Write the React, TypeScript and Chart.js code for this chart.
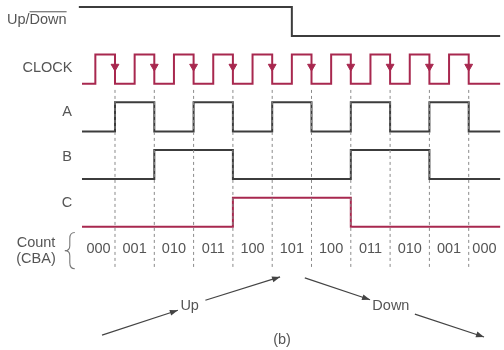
import React, { useEffect, useRef } from 'react';
import { Chart, registerables } from 'chart.js';

Chart.register(...registerables);

// ---- Data (time in clock periods, falling edges at t = 1..10) ----
const COUNT_LABELS = ['000', '001', '010', '011', '100', '101', '100', '011', '010', '001', '000'];
const A_BITS = [0, 1, 0, 1, 0, 1, 0, 1, 0, 1, 0];
const B_BITS = [0, 0, 1, 1, 0, 0, 0, 1, 1, 0, 0];
const C_BITS = [0, 0, 0, 0, 1, 1, 1, 0, 0, 0, 0];
const CLOCK_FALLS = [1, 2, 3, 4, 5, 6, 7, 8, 9, 10];
const CLOCK_RISES = [0.5, 1.5, 2.5, 3.5, 4.5, 5.5, 6.5, 7.5, 8.5, 9.5];
const UPDOWN_BITS = [1, 0];
const UPDOWN_SWITCH = [5.5];
const SIGNAL_NAMES = ['Up/Down', 'CLOCK', 'A', 'B', 'C'];
const T_START = 0.16;
const T_END = 10.8;
const UPDOWN_START = 0.08;

// ---- Layout / style ----
const AMP = 0.61; // high level offset in lane units
const LANE = { updown: 0, clock: 1, a: 2, b: 3, c: 4 };
const X_MIN = -1.926;
const X_MAX = 10.898;
const Y_MIN = -0.755;
const Y_MAX = 6.583;
const DARK = '#3c3c3c';
const RED = '#a8284f';
const TEXT = '#555555';
const FONT = '"Liberation Sans", Arial, Helvetica, sans-serif';

function level(lane: number, bit: number) {
  return lane - bit * AMP;
}

function stepPoints(bits: number[], edges: number[], start: number, end: number, lane: number) {
  const bounds = [start, ...edges, end];
  const pts: { x: number; y: number }[] = [];
  bits.forEach((b, i) => {
    pts.push({ x: bounds[i], y: level(lane, b) });
    pts.push({ x: bounds[i + 1], y: level(lane, b) });
  });
  return pts;
}

function clockPoints(lane: number) {
  const pts: { x: number; y: number }[] = [{ x: T_START, y: level(lane, 0) }];
  CLOCK_RISES.forEach((r, i) => {
    pts.push({ x: r, y: level(lane, 0) });
    pts.push({ x: r, y: level(lane, 1) });
    pts.push({ x: CLOCK_FALLS[i], y: level(lane, 1) });
    pts.push({ x: CLOCK_FALLS[i], y: level(lane, 0) });
  });
  pts.push({ x: T_END, y: level(lane, 0) });
  return pts;
}

const BOUNDARIES = CLOCK_FALLS;

const labelPos = [
  { x: -0.99, y: -0.33 },
  { x: -0.72, y: 0.67 },
  { x: -0.22, y: 1.6 },
  { x: -0.22, y: 2.54 },
  { x: -0.22, y: 3.5 },
];

const ARROWS = [
  { from: { x: 0.67, y: 6.27 }, to: { x: 2.6, y: 5.75 } },
  { from: { x: 3.3, y: 5.54 }, to: { x: 5.2, y: 5.05 } },
  { from: { x: 5.83, y: 5.07 }, to: { x: 7.49, y: 5.53 } },
  { from: { x: 8.63, y: 5.83 }, to: { x: 10.39, y: 6.31 } },
];
const ARROW_TEXT = [
  { text: 'Up', x: 2.9, y: 5.66 },
  { text: 'Down', x: 8.02, y: 5.66 },
  { text: '(b)', x: 5.25, y: 6.37 },
];

export default function App() {
  const ref = useRef<HTMLCanvasElement | null>(null);

  useEffect(() => {
    document.body.style.margin = '0';
    const canvas = ref.current;
    if (!canvas) return;

    const line = (data: any[], color: string, extra: any = {}) => ({
      type: 'line',
      data,
      borderColor: color,
      borderWidth: 2,
      pointRadius: 0,
      fill: false,
      tension: 0,
      borderJoinStyle: 'miter',
      clip: false,
      ...extra,
    });

    const datasets: any[] = [];
    BOUNDARIES.forEach((t) => {
      datasets.push(
        line(
          [
            { x: t, y: 1.13 },
            { x: t, y: 4.86 },
          ],
          '#8a8a8a',
          { borderWidth: 1, borderDash: [3, 3] }
        )
      );
    });
    datasets.push(line(stepPoints(UPDOWN_BITS, UPDOWN_SWITCH, UPDOWN_START, T_END, LANE.updown), DARK));
    datasets.push(line(clockPoints(LANE.clock), RED));
    datasets.push(
      line(
        CLOCK_FALLS.map((t) => ({ x: t, y: LANE.clock - 0.36 })),
        RED,
        {
          showLine: false,
          pointRadius: 4.5,
          pointStyle: 'triangle',
          rotation: 180,
          pointBackgroundColor: RED,
          pointBorderColor: RED,
          pointBorderWidth: 1,
        }
      )
    );
    datasets.push(line(stepPoints(A_BITS, BOUNDARIES, T_START, T_END, LANE.a), DARK));
    datasets.push(line(stepPoints(B_BITS, BOUNDARIES, T_START, T_END, LANE.b), DARK));
    datasets.push(line(stepPoints(C_BITS, BOUNDARIES, T_START, T_END, LANE.c), RED));
    ARROWS.forEach((a) => {
      datasets.push(line([a.from, a.to], '#444', { borderWidth: 1.2 }));
    });

    const textPlugin = {
      id: 'timingText',
      afterDraw(chart: any) {
        const ctx = chart.ctx as CanvasRenderingContext2D;
        const xs = chart.scales.x;
        const ys = chart.scales.y;
        const px = (v: number) => xs.getPixelForValue(v);
        const py = (v: number) => ys.getPixelForValue(v);
        ctx.save();
        ctx.fillStyle = TEXT;
        ctx.font = `14.5px ${FONT}`;
        ctx.textAlign = 'center';
        ctx.textBaseline = 'middle';
        SIGNAL_NAMES.forEach((name, i) => {
          const p = labelPos[i];
          ctx.fillText(name, px(p.x), py(p.y));
        });
        // overline over "Down"
        {
          const p = labelPos[0];
          const full = ctx.measureText('Up/Down').width;
          const pre = ctx.measureText('Up/').width;
          const left = px(p.x) - full / 2;
          ctx.strokeStyle = TEXT;
          ctx.lineWidth = 1;
          ctx.beginPath();
          ctx.moveTo(left + pre, py(p.y) - 8.5);
          ctx.lineTo(left + full, py(p.y) - 8.5);
          ctx.stroke();
        }
        // count labels
        const bounds = [T_START, ...BOUNDARIES, T_END];
        const yc = py(4.47);
        COUNT_LABELS.forEach((lab, i) => {
          ctx.fillText(lab, px((bounds[i] + bounds[i + 1]) / 2), yc);
        });
        ctx.fillText('Count', px(-1.01), py(4.33));
        ctx.fillText('(CBA)', px(-1.01), py(4.68));
        // brace
        const bx = px(-0.15);
        const top = py(4.12);
        const bot = py(4.88);
        const mid = (top + bot) / 2;
        ctx.strokeStyle = '#777';
        ctx.lineWidth = 1.1;
        ctx.beginPath();
        ctx.moveTo(bx + 5, top);
        ctx.quadraticCurveTo(bx, top, bx, top + 6);
        ctx.lineTo(bx, mid - 5);
        ctx.quadraticCurveTo(bx, mid, bx - 5, mid);
        ctx.quadraticCurveTo(bx, mid, bx, mid + 5);
        ctx.lineTo(bx, bot - 6);
        ctx.quadraticCurveTo(bx, bot, bx + 5, bot);
        ctx.stroke();
        // arrowheads
        ctx.fillStyle = '#444';
        ARROWS.forEach((a) => {
          const x1 = px(a.from.x), y1 = py(a.from.y);
          const x2 = px(a.to.x), y2 = py(a.to.y);
          const ang = Math.atan2(y2 - y1, x2 - x1);
          const L = 8, W = 3;
          ctx.beginPath();
          ctx.moveTo(x2, y2);
          ctx.lineTo(x2 - L * Math.cos(ang) + W * Math.sin(ang), y2 - L * Math.sin(ang) - W * Math.cos(ang));
          ctx.lineTo(x2 - L * Math.cos(ang) - W * Math.sin(ang), y2 - L * Math.sin(ang) + W * Math.cos(ang));
          ctx.closePath();
          ctx.fill();
        });
        ctx.fillStyle = TEXT;
        ARROW_TEXT.forEach((t) => ctx.fillText(t.text, px(t.x), py(t.y)));
        ctx.restore();
      },
    };

    const chart = new Chart(canvas, {
      type: 'scatter',
      data: { datasets },
      options: {
        animation: false,
        responsive: false,
        maintainAspectRatio: false,
        layout: { padding: 0, autoPadding: false },
        plugins: { legend: { display: false }, tooltip: { enabled: false }, title: { display: false } },
        events: [],
        scales: {
          x: { type: 'linear', min: X_MIN, max: X_MAX, display: false },
          y: { type: 'linear', min: Y_MIN, max: Y_MAX, reverse: true, display: false },
        },
      },
      plugins: [textPlugin],
    } as any);

    return () => chart.destroy();
  }, []);

  return (
    <div style={{ width: 504, height: 350, background: '#fff' }}>
      <canvas ref={ref} width={504} height={350} style={{ display: 'block', width: 504, height: 350 }} />
    </div>
  );
}
